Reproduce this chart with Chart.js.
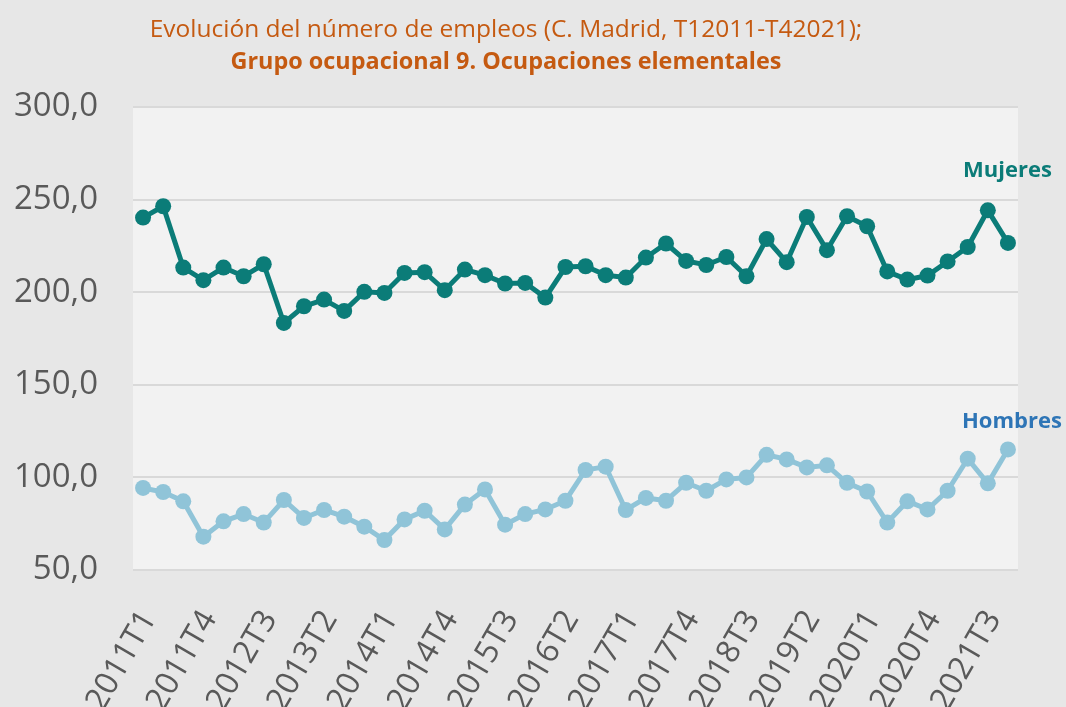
<!DOCTYPE html>
<html>
<head>
<meta charset="utf-8">
<script src="https://cdn.jsdelivr.net/npm/chart.js@4"></script>
<style>
  html, body { margin: 0; padding: 0; background: #e7e7e7; }
  #wrap { width: 1066px; height: 707px; }
</style>
</head>
<body>
<div id="wrap"><canvas id="chart" width="1066" height="707"></canvas></div>
<script>
// quarters 2011T1 .. 2021T4
var quarters = [];
for (var y = 2011; y <= 2021; y++) {
    for (var q = 1; q <= 4; q++) quarters.push(y + 'T' + q);
}

var mujeres = [240.3, 246.4, 213.3, 206.5, 213.3, 208.6, 215.1, 183.4, 192.4, 196.0, 189.9,
               200.2, 199.6, 210.4, 210.8, 201.1, 212.2, 209.2, 204.7, 205.0, 197.1, 213.6,
               214.0, 209.2, 207.9, 218.7, 226.3, 216.9, 214.7, 219.0, 208.6, 228.7, 216.2,
               240.6, 222.7, 241.0, 235.6, 211.2, 206.8, 209.0, 216.6, 224.4, 244.2, 226.6];

var hombres = [94.3, 92.1, 87.1, 68.0, 76.3, 80.2, 75.6, 87.8, 78.1, 82.4, 78.8,
               73.4, 66.2, 77.3, 82.0, 71.9, 85.3, 93.5, 74.5, 80.2, 82.7, 87.4,
               104.0, 105.8, 82.4, 88.9, 87.4, 97.1, 92.8, 98.9, 100.0, 112.2, 109.7,
               105.4, 106.5, 97.1, 92.4, 75.6, 87.1, 82.7, 92.8, 110.1, 96.8, 115.1];

var titleLine1 = 'Evolución del número de empleos (C. Madrid, T12011-T42021);';
var titleLine2 = 'Grupo ocupacional 9. Ocupaciones elementales';

var orange = '#c55a11';
var textGrey = '#595959';

// plot background + titles + series names
var decorPlugin = {
    id: 'decor',
    beforeDraw: function(chart) {
        var ctx = chart.ctx, a = chart.chartArea;
        ctx.save();
        ctx.fillStyle = '#f2f2f2';
        ctx.fillRect(a.left, a.top, a.right - a.left, a.bottom - a.top);
        ctx.restore();
    },
    afterDraw: function(chart) {
        var ctx = chart.ctx;
        var ys = chart.scales.y;
        ctx.save();
        ctx.textAlign = 'center';
        ctx.textBaseline = 'middle';
        ctx.fillStyle = orange;
        ctx.font = '24.5px "Open Sans"';
        ctx.fillText(titleLine1, 506, 30);
        ctx.font = 'bold 23.4px "Open Sans"';
        ctx.fillText(titleLine2, 506, 62);

        ctx.textAlign = 'left';
        ctx.font = 'bold 22px "Open Sans"';
        ctx.fillStyle = '#0b7c78';
        ctx.fillText('Mujeres', 963, ys.getPixelForValue(265.5));
        ctx.fillStyle = '#2e75b6';
        ctx.fillText('Hombres', 962, ys.getPixelForValue(130));
        ctx.restore();
    }
};

new Chart(document.getElementById('chart').getContext('2d'), {
    type: 'line',
    data: {
        labels: quarters,
        datasets: [{
            label: 'Mujeres',
            data: mujeres,
            borderColor: '#0b7c78',
            backgroundColor: '#0b7c78',
            borderWidth: 5,
            pointRadius: 8,
            pointBorderWidth: 0,
            tension: 0
        }, {
            label: 'Hombres',
            data: hombres,
            borderColor: '#90c4d8',
            backgroundColor: '#90c4d8',
            borderWidth: 5,
            pointRadius: 8,
            pointBorderWidth: 0,
            tension: 0
        }]
    },
    options: {
        responsive: false,
        animation: false,
        layout: { padding: { top: 107, right: 48, left: 0, bottom: 0 } },
        plugins: {
            legend: { display: false },
            tooltip: { enabled: false }
        },
        scales: {
            x: {
                offset: true,
                grid: { display: false, drawTicks: false },
                border: { display: false },
                ticks: {
                    autoSkip: false,
                    minRotation: 60,
                    maxRotation: 60,
                    padding: 34,
                    labelOffset: 6,
                    color: textGrey,
                    font: { family: 'Open Sans', size: 32 },
                    callback: function(v, i) { return i % 3 === 0 ? quarters[i] : ''; }
                },
                afterFit: function(s) {
                    s.height = 137;
                    s.paddingLeft = 0;
                    s.paddingRight = 0;
                }
            },
            y: {
                min: 50,
                max: 300,
                grid: { color: '#d9d9d9', lineWidth: 2, drawTicks: false },
                border: { display: false },
                ticks: {
                    stepSize: 50,
                    padding: 35,
                    color: textGrey,
                    font: { family: 'Open Sans', size: 33 },
                    callback: function(v) { return v.toFixed(1).replace('.', ','); }
                },
                afterFit: function(s) { s.width = 133; }
            }
        }
    },
    plugins: [decorPlugin]
});
</script>
</body>
</html>
